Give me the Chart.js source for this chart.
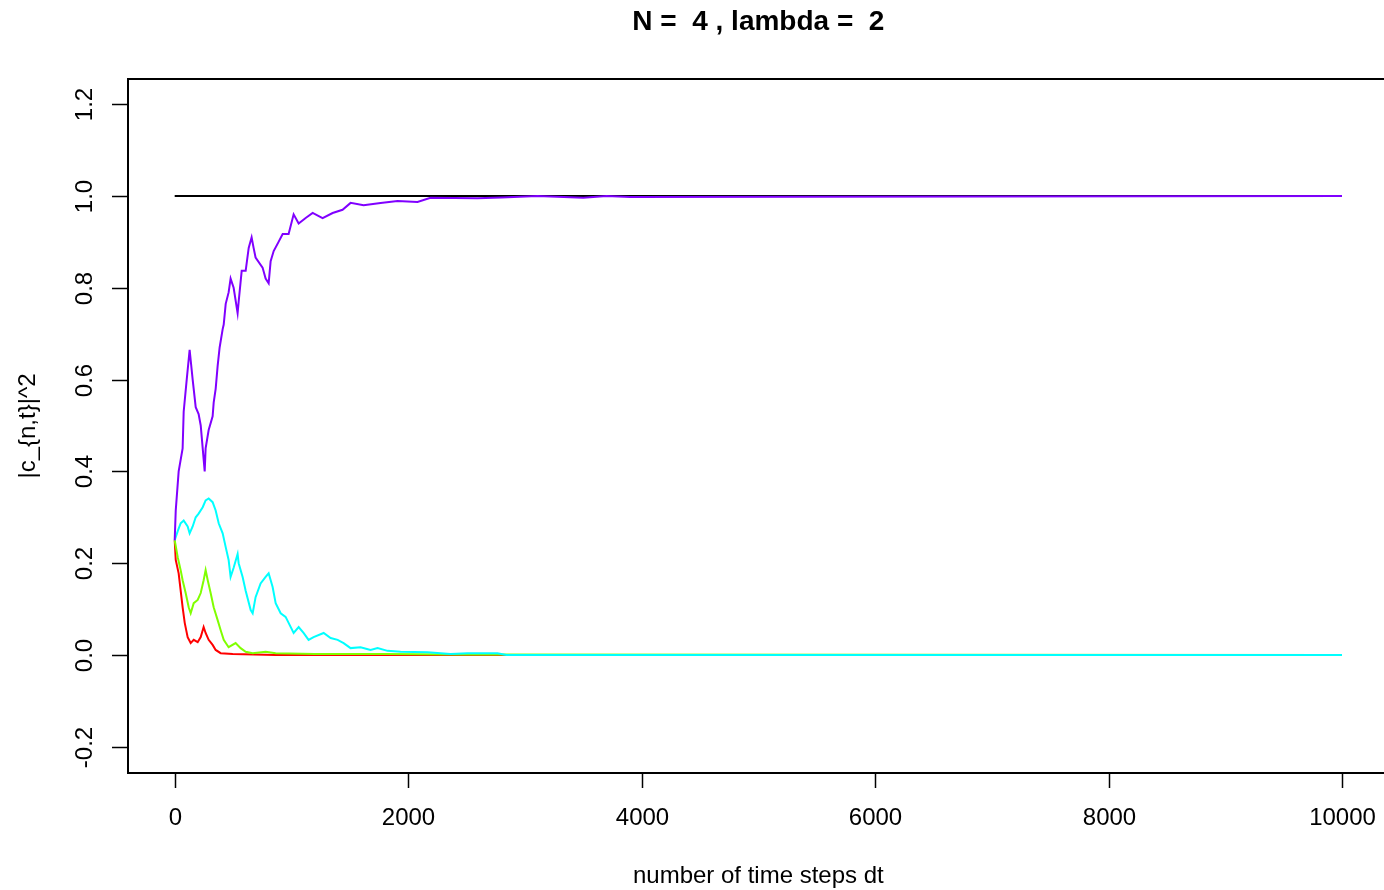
<!DOCTYPE html>
<html>
<head>
<meta charset="utf-8">
<title>N = 4, lambda = 2</title>
<script src="https://cdn.jsdelivr.net/npm/chart.js@4.4.1/dist/chart.umd.min.js"></script>
<style>
  html, body { margin: 0; padding: 0; background: #fff; }
  canvas { display: block; }
</style>
</head>
<body>
<canvas id="chart" width="1384" height="890"></canvas>
<script>
// values: time step -> |c_{n,t}|^2
const sumSteps = [0, 10000];
const sumValues = [1, 1];

const redSteps = [0, 9, 34, 51, 68, 86, 111, 137, 163, 197,
  223, 248, 265, 291, 325, 351, 394, 497, 865, 10000];
const redValues = [0.25, 0.207, 0.178, 0.141, 0.104, 0.07, 0.039, 0.026, 0.033, 0.028,
  0.039, 0.061, 0.048, 0.033, 0.022, 0.011, 0.004, 0.002, 0, 0];

const greenSteps = [0, 26, 51, 68, 94, 120, 137, 163, 197, 223,
  248, 265, 283, 308, 334, 368, 394, 420, 462, 522,
  565, 608, 668, 779, 865, 1200, 1800, 2400, 10000];
const greenValues = [0.25, 0.213, 0.185, 0.163, 0.135, 0.104, 0.091, 0.113, 0.12, 0.135,
  0.163, 0.185, 0.163, 0.135, 0.104, 0.076, 0.054, 0.033, 0.017, 0.026,
  0.015, 0.007, 0.004, 0.007, 0.004, 0.002, 0.002, 0.001, 0];

const cyanSteps = [0, 26, 51, 77, 111, 128, 154, 180, 205, 240,
  265, 291, 325, 351, 377, 411, 437, 462, 479, 505,
  539, 548, 582, 608, 651, 668, 693, 736, 779, 805,
  839, 865, 908, 950, 976, 1019, 1062, 1104, 1147, 1190,
  1276, 1336, 1396, 1447, 1507, 1592, 1678, 1738, 1824, 1935,
  2166, 2363, 2509, 2765, 2842, 10000];
const cyanValues = [0.25, 0.27, 0.287, 0.293, 0.28, 0.265, 0.28, 0.30, 0.308, 0.322,
  0.337, 0.341, 0.333, 0.315, 0.287, 0.265, 0.235, 0.207, 0.17, 0.19,
  0.22, 0.20, 0.17, 0.14, 0.098, 0.091, 0.126, 0.156, 0.17, 0.178,
  0.148, 0.113, 0.091, 0.083, 0.07, 0.048, 0.061, 0.048, 0.033, 0.039,
  0.048, 0.037, 0.033, 0.026, 0.015, 0.017, 0.011, 0.015, 0.009, 0.007,
  0.006, 0.002, 0.004, 0.004, 0, 0];

const purpleSteps = [0, 9, 34, 68, 77, 103, 128, 154, 180, 205,
  223, 257, 265, 291, 325, 334, 351, 368, 385, 411,
  420, 437, 462, 479, 505, 539, 548, 574, 608, 634,
  659, 676, 693, 753, 779, 805, 822, 848, 890, 925,
  976, 1019, 1062, 1122, 1182, 1267, 1353, 1438, 1507, 1618,
  1764, 1909, 2080, 2192, 2594, 2800, 3108, 3500, 3700, 3900,
  10000];
const purpleValues = [0.25, 0.315, 0.40, 0.45, 0.53, 0.60, 0.665, 0.60, 0.54, 0.525,
  0.50, 0.40, 0.45, 0.49, 0.52, 0.55, 0.58, 0.63, 0.67, 0.71,
  0.72, 0.765, 0.79, 0.82, 0.80, 0.745, 0.77, 0.837, 0.837, 0.887,
  0.91, 0.887, 0.866, 0.844, 0.82, 0.81, 0.858, 0.88, 0.90, 0.917,
  0.917, 0.96, 0.94, 0.952, 0.963, 0.952, 0.963, 0.97, 0.985, 0.98,
  0.985, 0.989, 0.987, 0.996, 0.995, 0.997, 1.0, 0.996, 1.0, 0.998,
  1.0];

const xTicks = [0, 2000, 4000, 6000, 8000, 10000];
const yTicks = [-0.2, 0, 0.2, 0.4, 0.6, 0.8, 1.0, 1.2];
const yTickLabels = ["-0.2", "0.0", "0.2", "0.4", "0.6", "0.8", "1.0", "1.2"];

const FONT = '"Liberation Sans", Arial, sans-serif';

const toPoints = (xs, ys) => xs.map((x, i) => ({ x: x, y: ys[i] }));

// R-style box, ticks and labels drawn from the chart's own scales
const baseAxes = {
  id: "baseAxes",
  afterDraw(chart) {
    const { ctx, chartArea, scales } = chart;
    const x = scales.x, y = scales.y;
    ctx.save();
    ctx.strokeStyle = "#000";
    ctx.lineWidth = 2;
    ctx.beginPath();
    ctx.moveTo(chart.width + 5, chartArea.top);
    ctx.lineTo(chartArea.left, chartArea.top);
    ctx.lineTo(chartArea.left, chartArea.bottom);
    ctx.lineTo(chart.width + 5, chartArea.bottom);
    ctx.stroke();

    ctx.fillStyle = "#000";
    ctx.font = "24px " + FONT;
    ctx.textAlign = "center";
    ctx.textBaseline = "middle";

    xTicks.forEach((v) => {
      const px = Math.round(x.getPixelForValue(v)) + 0.5;
      ctx.beginPath();
      ctx.moveTo(px, chartArea.bottom);
      ctx.lineTo(px, chartArea.bottom + 15);
      ctx.lineWidth = 1.5;
      ctx.stroke();
      ctx.fillText(String(v), px, chartArea.bottom + 45);
    });

    yTicks.forEach((v, i) => {
      const py = Math.round(y.getPixelForValue(v)) + 0.5;
      ctx.beginPath();
      ctx.moveTo(chartArea.left, py);
      ctx.lineTo(chartArea.left - 16, py);
      ctx.lineWidth = 1.5;
      ctx.stroke();
      ctx.save();
      ctx.translate(chartArea.left - 43, py);
      ctx.rotate(-Math.PI / 2);
      ctx.fillText(yTickLabels[i], 0, 0);
      ctx.restore();
    });

    const midX = x.getPixelForValue(5000);
    const midY = (chartArea.top + chartArea.bottom) / 2;
    ctx.fillText("number of time steps dt", midX, chartArea.bottom + 103);

    ctx.save();
    ctx.translate(28, midY);
    ctx.rotate(-Math.PI / 2);
    ctx.fillText("|c_{n,t}|^2", 0, 0);
    ctx.restore();

    ctx.font = "bold 28px " + FONT;
    ctx.fillText("N =  4 , lambda =  2", midX, 22);
    ctx.restore();
  }
};

const line = (label, xs, ys, color) => ({
  label: label,
  data: toPoints(xs, ys),
  borderColor: color,
  backgroundColor: color,
  borderWidth: 2,
  pointRadius: 0,
  tension: 0,
  fill: false
});

new Chart(document.getElementById("chart").getContext("2d"), {
  type: "line",
  data: {
    // first dataset is drawn on top
    datasets: [
      line("n = 4", purpleSteps, purpleValues, "#8000FF"),
      line("n = 3", cyanSteps, cyanValues, "#00FFFF"),
      line("n = 2", greenSteps, greenValues, "#80FF00"),
      line("n = 1", redSteps, redValues, "#FF0000"),
      line("sum", sumSteps, sumValues, "#000000")
    ]
  },
  options: {
    responsive: false,
    animation: false,
    layout: { padding: { left: 128, top: 79, right: 0, bottom: 117 } },
    scales: {
      x: { type: "linear", min: -400, max: 10360, display: false },
      // limits chosen so that 0 and 1 fall on whole pixels
      y: { type: "linear", min: -0.25708, max: 1.2549, display: false }
    },
    plugins: {
      legend: { display: false },
      tooltip: { enabled: false },
      title: { display: false }
    }
  },
  plugins: [baseAxes]
});
</script>
</body>
</html>
